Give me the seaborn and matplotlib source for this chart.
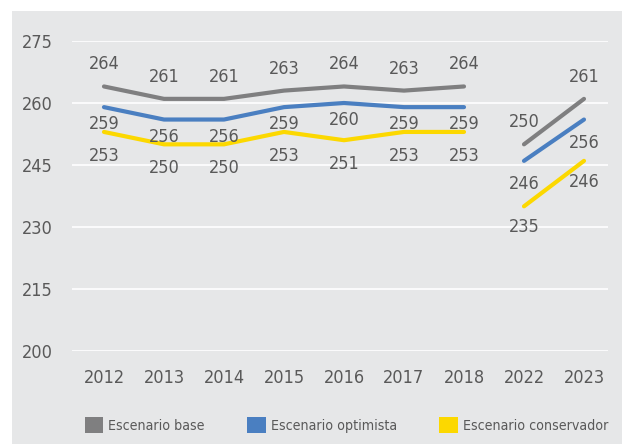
import matplotlib
matplotlib.use("Agg")
import matplotlib.pyplot as plt
import matplotlib.patches as mpatches
from matplotlib import font_manager
import seaborn as sns
import pandas as pd
import numpy as np

years = ["2012", "2013", "2014", "2015", "2016", "2017", "2018", "2022", "2023"]
segments = [0, 0, 0, 0, 0, 0, 0, 1, 1]
base = [264, 261, 261, 263, 264, 263, 264, 250, 261]
optimista = [259, 256, 256, 259, 260, 259, 259, 246, 256]
conservador = [253, 250, 250, 253, 251, 253, 253, 235, 246]
series_names = ["Escenario base", "Escenario optimista", "Escenario conservador"]
colors = ["#7f7f80", "#4a7fc1", "#fcd800"]
yticks = [200, 215, 230, 245, 260, 275]

sns.set_theme(style="white")
names = {f.name for f in font_manager.fontManager.ttflist}
fam = ['Liberation Sans Narrow'] if 'Liberation Sans Narrow' in names else []
plt.rcParams['font.family'] = fam + ['DejaVu Sans']
plt.rcParams['font.stretch'] = 'condensed'
txt = "#595959"

rows = []
for name, vals in zip(series_names, [base, optimista, conservador]):
    for i, (y, s, v) in enumerate(zip(years, segments, vals)):
        rows.append({"pos": i, "year": y, "seg": s, "value": v, "serie": name})
df = pd.DataFrame(rows)

fig = plt.figure(figsize=(6.22, 4.44), dpi=100)
fig.patch.set_facecolor("white")
bg = mpatches.Rectangle((12 / 622, 0), 1, 1 - 11 / 444, transform=fig.transFigure,
                        facecolor="#e6e7e8", edgecolor="none", zorder=-10)
fig.patches.append(bg)

ax = fig.add_axes([72 / 622, 1 - 351 / 444, (608 - 72) / 622, (351 - 41) / 444])
ax.patch.set_alpha(0)

sns.lineplot(data=df, x="pos", y="value", hue="serie", units="seg", estimator=None,
             palette=dict(zip(series_names, colors)), linewidth=3, ax=ax, legend=False,
             zorder=3)

for name, vals in zip(series_names, [base, optimista, conservador]):
    for i, v in enumerate(vals):
        if name == "Escenario base":
            dy = 22
        elif name == "Escenario optimista":
            dy = -17 if i < 7 else -23
        else:
            dy = -24 if i < 7 else -21
        ax.annotate(str(v), (i, v), xytext=(0, dy), textcoords="offset pixels",
                    ha="center", va="center", fontsize=13, color=txt, annotation_clip=False)

ax.set_ylim(200, 275)
ax.set_xlim(-0.533, 8.4)
ax.set_yticks(yticks)
ax.set_xticks(range(len(years)))
ax.set_xticklabels(years)
ax.grid(axis="y", color="white", linewidth=1.2, zorder=1)
ax.grid(axis="x", visible=False)
ax.set_axisbelow(True)
for sp in ax.spines.values():
    sp.set_visible(False)
ax.tick_params(axis="y", length=0, pad=14, labelsize=13, labelcolor=txt)
ax.tick_params(axis="x", length=0, pad=13, labelsize=13, labelcolor=txt)
ax.set_xlabel("")
ax.set_ylabel("")

handles = [mpatches.Patch(facecolor=c, edgecolor="none", label=n) for n, c in zip(series_names, colors)]
leg = fig.legend(handles=handles, loc="center left", bbox_to_anchor=(85 / 622, 1 - 425 / 444),
                 ncol=3, frameon=False, fontsize=10.2, handlelength=1.3, handleheight=1.3,
                 handletextpad=0.35, columnspacing=3.0, borderaxespad=0, borderpad=0)
for t in leg.get_texts():
    t.set_color(txt)

fig.savefig("out.png", dpi=100, facecolor=fig.get_facecolor())
